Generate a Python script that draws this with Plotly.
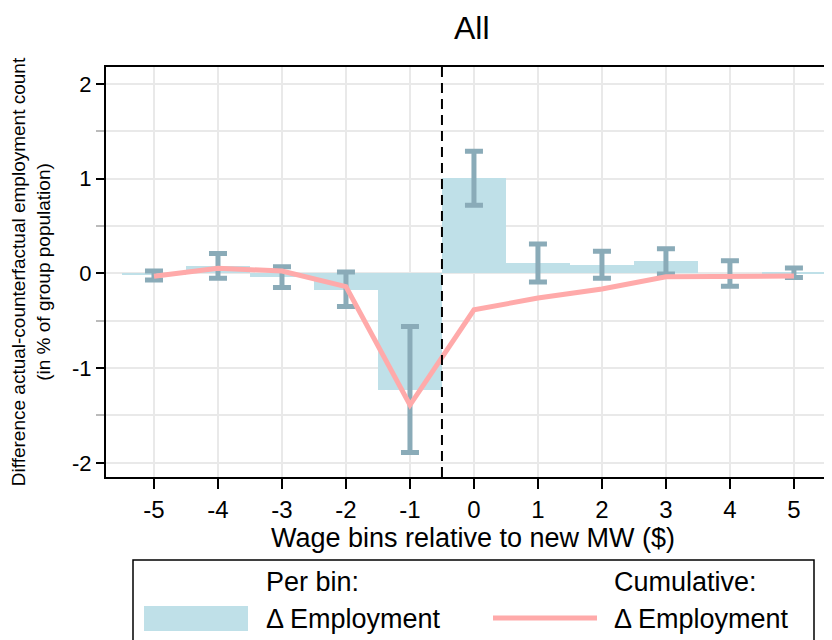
import plotly.graph_objects as go

# ---- data ----
bins = [-5, -4, -3, -2, -1, 0, 1, 2, 3, 4, 5]
per_bin = [-0.02, 0.08, -0.04, -0.17, -1.23, 1.01, 0.11, 0.09, 0.13, 0.0, 0.01]
ci_hi = [0.025, 0.21, 0.07, 0.015, -0.56, 1.29, 0.31, 0.235, 0.26, 0.135, 0.057]
ci_lo = [-0.07, -0.05, -0.15, -0.35, -1.89, 0.72, -0.09, -0.05, -0.005, -0.135, -0.042]
cumulative = [-0.03, 0.055, 0.025, -0.14, -1.39, -0.385, -0.26, -0.165, -0.035, -0.035, -0.028]
x_ticktext = ["-5", "-4", "-3", "-2", "-1", "0", "1", "2", "3", "4", "5"]
y_tickvals = [-2, -1, 0, 1, 2]
y_ticktext = ["-2", "-1", "0", "1", "2"]
mw_cut = -0.5
title_text = "All"

OFF = 8  # page body margin
W, H = 832, 640
L, R, T, B = 106 - OFF, 0, 67 - OFF, H - (477 - OFF)
FONT = "Liberation Sans"

BAR = "#bfe0e8"
ERR = "#8aabb8"
LINE = "#ffaaaa"

fig = go.Figure()
fig.add_trace(go.Bar(x=bins, y=per_bin, width=1.0, marker=dict(color=BAR, line=dict(width=0)),
                     showlegend=False, hoverinfo="skip"))
fig.add_trace(go.Scatter(
    x=bins, y=per_bin, mode="markers", marker=dict(size=1, opacity=0),
    error_y=dict(type="data", symmetric=False,
                 array=[h - v for h, v in zip(ci_hi, per_bin)],
                 arrayminus=[v - l for l, v in zip(ci_lo, per_bin)],
                 color=ERR, thickness=5, width=9),
    showlegend=False, hoverinfo="skip"))
fig.add_trace(go.Scatter(x=bins, y=cumulative, mode="lines", line=dict(color=LINE, width=5),
                         showlegend=False, hoverinfo="skip"))

fig.add_shape(type="line", x0=mw_cut, x1=mw_cut, y0=0, y1=1, xref="x", yref="paper",
              line=dict(color="black", width=2, dash="10px,6px"))

def px_x(p):
    return (p - OFF - L) / (W - L - R)

def px_y(p):
    return (H - B - (p - OFF)) / (H - T - B)

# title as annotation
fig.add_annotation(text=title_text, xref="paper", yref="paper", x=px_x(472), y=px_y(28),
                   xanchor="center", yanchor="middle", showarrow=False,
                   font=dict(family=FONT, size=32, color="black"))

# legend box
fig.add_shape(type="rect", xref="paper", yref="paper", x0=px_x(133), x1=px_x(814),
              y0=px_y(670), y1=px_y(560), line=dict(color="black", width=1.5), fillcolor="white",
              layer="below")
fig.add_shape(type="rect", xref="paper", yref="paper", x0=px_x(144), x1=px_x(248),
              y0=px_y(631), y1=px_y(606), line=dict(width=0), fillcolor=BAR)
fig.add_shape(type="line", xref="paper", yref="paper", x0=px_x(493), x1=px_x(597),
              y0=px_y(618), y1=px_y(618), line=dict(color=LINE, width=5))
for txt, xp, yp in [("Per bin:", 264, 582), ("Δ Employment", 264, 619),
                    ("Cumulative:", 612, 582), ("Δ Employment", 612, 619)]:
    fig.add_annotation(text=txt, xref="paper", yref="paper", x=px_x(xp), y=px_y(yp),
                       xanchor="left", yanchor="middle", showarrow=False,
                       font=dict(family=FONT, size=27, color="black"))

fig.update_layout(
    width=W, height=H, margin=dict(l=L, r=R, t=T, b=B),
    paper_bgcolor="white", plot_bgcolor="white",
    font=dict(family=FONT, color="black"),
    bargap=0,
)
fig.update_xaxes(range=[-5.75, 5.72], tickvals=bins, ticktext=x_ticktext, automargin=False,
                 ticks="outside", ticklen=10, tickwidth=1.5, tickcolor="black",
                 showline=True, linecolor="black", linewidth=2, mirror=True,
                 showgrid=True, gridcolor="#e9e9e9", gridwidth=1.5, zeroline=False,
                 tickfont=dict(size=24, family=FONT),
                 title=dict(text="Wage bins relative to new MW ($)", standoff=0,
                            font=dict(size=27, family=FONT)))
fig.update_yaxes(range=[-2.15, 2.18], tickvals=y_tickvals, ticktext=y_ticktext, automargin=False,
                 ticks="outside", ticklen=8, tickwidth=1.5, tickcolor="black",
                 showline=True, linecolor="black", linewidth=2, mirror=False,
                 showgrid=True, gridcolor="#e9e9e9", gridwidth=1.5, zeroline=False,
                 minor=dict(dtick=0.5, showgrid=True, gridcolor="#e9e9e9", gridwidth=1.5,
                            ticks="outside", ticklen=8, tickcolor="#bbbbbb"),
                 tickfont=dict(size=22, family=FONT),
                 title=dict(text="Difference actual-counterfactual employment count<br>(in % of group population)",
                            standoff=20, font=dict(size=19, family=FONT)))

fig.write_html("out.html")
